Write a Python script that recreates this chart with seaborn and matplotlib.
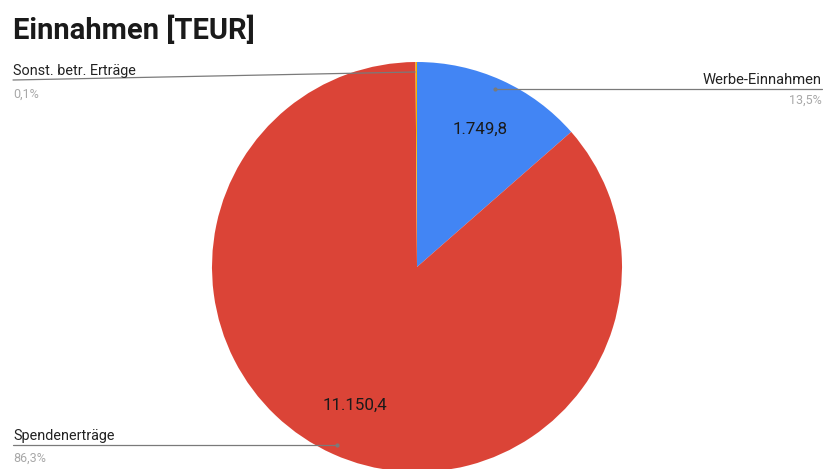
import numpy as np
import matplotlib
matplotlib.use("Agg")
import matplotlib.pyplot as plt
import seaborn as sns

categories = ["Werbe-Einnahmen", "Spendenerträge", "Sonst. betr. Erträge"]
values = [1749.8, 11150.4, 15.0]
colors = ["#4285F4", "#DB4437", "#F4B400"]

sns.set_theme(style="white")
plt.rcParams["font.family"] = ["Roboto", "DejaVu Sans"]

W, H = 823, 469
fig = plt.figure(figsize=(W / 100, H / 100), dpi=100)
ax = fig.add_axes([0, 0, 1, 1])

total = sum(values)


def de(v, nd=1):
    s = f"{v:,.{nd}f}"
    return s.replace(",", "X").replace(".", ",").replace("X", ".")


def fmt(pct):
    v = pct * total / 100
    return de(v) if pct > 2 else ""


wedges, texts, autotexts = ax.pie(values, colors=colors, startangle=90, counterclock=False,
                                  center=(417, H - 267), radius=205, autopct=fmt,
                                  pctdistance=0.74, wedgeprops=dict(linewidth=0),
                                  textprops=dict(fontsize=12.2, color="#1a1a1a"))
ax.set_xlim(0, W)
ax.set_ylim(0, H)
ax.set_aspect("equal")
ax.axis("off")

fig.text(13 / W, 1 - 30 / H, "Einnahmen [TEUR]", fontsize=21, fontweight="bold",
         color="#1a1a1a", va="center", ha="left")

pcts = [de(v / total * 100) + "%" for v in values]
line_c = "#7a7a7a"
gray = "#a8a8a8"

# Sonst. betr. Erträge (oben links)
ax.plot([13, 415], [H - 80, H - 72], color=line_c, lw=0.9)
ax.text(13, H - 78, categories[2], fontsize=10.4, color="#222222", ha="left", va="bottom")
ax.text(13, H - 94, pcts[2], fontsize=9, color=gray, ha="left", va="center")

# Werbe-Einnahmen (rechts)
ax.plot([495, 822], [H - 89, H - 89], color=line_c, lw=0.9)
ax.plot([495], [H - 89], "o", color=line_c, ms=2)
ax.text(822, H - 87, categories[0], fontsize=10.6, color="#222222", ha="right", va="bottom")
ax.text(822, H - 100, pcts[0], fontsize=9, color=gray, ha="right", va="center")

# Spendenerträge (unten links)
ax.plot([13, 337], [H - 445, H - 445], color=line_c, lw=0.9)
ax.plot([337], [H - 445], "o", color=line_c, ms=2)
ax.text(13, H - 443, categories[1], fontsize=10.4, color="#222222", ha="left", va="bottom")
ax.text(13, H - 458, pcts[1], fontsize=9, color=gray, ha="left", va="center")

fig.savefig("out.png", dpi=100, facecolor="white")
